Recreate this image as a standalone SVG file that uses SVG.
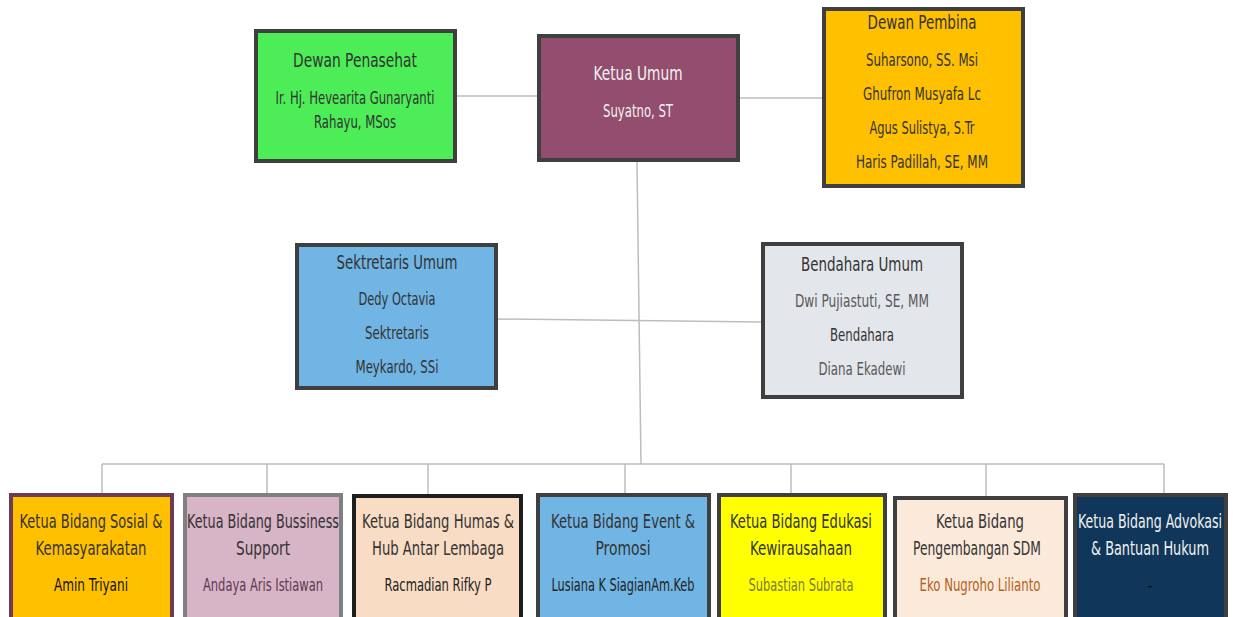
<svg xmlns="http://www.w3.org/2000/svg" width="1233" height="617" viewBox="0 0 1233 617">
<style>
text{font-family:"DejaVu Sans Condensed","Liberation Sans",sans-serif;text-anchor:middle;fill:#333}
.t{font-size:19px}
.n{font-size:17px}
.box{stroke:#3f3f3f;stroke-width:4}
.con{stroke:#bdbdbd;stroke-width:1.5;fill:none}
.w{fill:#f2f2f2}
</style>
<rect width="1233" height="617" fill="#fff"/>
<g id="connectors">
<line class="con" x1="457" y1="96" x2="537" y2="96"/>
<line class="con" x1="740" y1="98" x2="822" y2="98"/>
<line class="con" x1="637" y1="162" x2="641" y2="464"/>
<line class="con" x1="498" y1="319" x2="761" y2="322"/>
<line class="con" x1="102" y1="464" x2="1164" y2="464"/>
<line class="con" x1="102" y1="464" x2="102" y2="493"/>
<line class="con" x1="267" y1="464" x2="267" y2="493"/>
<line class="con" x1="428" y1="464" x2="428" y2="494"/>
<line class="con" x1="625" y1="464" x2="625" y2="493"/>
<line class="con" x1="791" y1="464" x2="791" y2="493"/>
<line class="con" x1="986" y1="464" x2="986" y2="496"/>
<line class="con" x1="1164" y1="464" x2="1164" y2="493"/>
</g>
<g id="dewan-penasehat">
<rect class="box" x="256" y="31" width="199" height="130" fill="#4ced56"/>
<text class="t" x="355" y="67" textLength="124" lengthAdjust="spacingAndGlyphs">Dewan  Penasehat</text>
<text class="n" x="355" y="104" textLength="159" lengthAdjust="spacingAndGlyphs">Ir. Hj. Hevearita Gunaryanti</text>
<text class="n" x="355" y="128" textLength="82" lengthAdjust="spacingAndGlyphs">Rahayu, MSos</text>
</g>
<g id="ketua-umum">
<rect class="box" x="539" y="36" width="199" height="124" fill="#934d6e"/>
<text class="t w" x="638" y="80" textLength="89" lengthAdjust="spacingAndGlyphs">Ketua Umum</text>
<text class="n w" x="638" y="117" textLength="70" lengthAdjust="spacingAndGlyphs">Suyatno, ST</text>
</g>
<g id="dewan-pembina">
<rect class="box" x="824" y="9" width="199" height="177" fill="#ffc000"/>
<text class="t" x="922" y="29" textLength="109" lengthAdjust="spacingAndGlyphs">Dewan Pembina</text>
<text class="n" x="922" y="66" textLength="112" lengthAdjust="spacingAndGlyphs">Suharsono, SS. Msi</text>
<text class="n" x="922" y="100" textLength="118" lengthAdjust="spacingAndGlyphs">Ghufron Musyafa Lc</text>
<text class="n" x="922" y="134" textLength="105" lengthAdjust="spacingAndGlyphs">Agus Sulistya, S.Tr</text>
<text class="n" x="922" y="168" textLength="132" lengthAdjust="spacingAndGlyphs">Haris Padillah, SE, MM</text>
</g>
<g id="sektretaris-umum">
<rect class="box" x="297" y="245" width="199" height="143" fill="#71b5e4"/>
<text class="t" x="397" y="269" textLength="121" lengthAdjust="spacingAndGlyphs">Sektretaris Umum</text>
<text class="n" x="397" y="305" textLength="77" lengthAdjust="spacingAndGlyphs">Dedy Octavia</text>
<text class="n" x="397" y="339" textLength="64" lengthAdjust="spacingAndGlyphs">Sektretaris</text>
<text class="n" x="397" y="373" textLength="83" lengthAdjust="spacingAndGlyphs">Meykardo, SSi</text>
</g>
<g id="bendahara-umum">
<rect class="box" x="763" y="244" width="199" height="153" fill="#e3e6ea"/>
<text class="t" x="862" y="271" textLength="122" lengthAdjust="spacingAndGlyphs">Bendahara Umum</text>
<text class="n" x="862" y="307" style="fill:#595959" textLength="134" lengthAdjust="spacingAndGlyphs">Dwi Pujiastuti, SE, MM</text>
<text class="n" x="862" y="341" textLength="64" lengthAdjust="spacingAndGlyphs">Bendahara</text>
<text class="n" x="862" y="375" style="fill:#595959" textLength="87" lengthAdjust="spacingAndGlyphs">Diana Ekadewi</text>
</g>
<g id="bidang-sosial">
<rect class="box" x="11" y="495" width="161" height="130" fill="#ffc000" style="stroke:#6e3b57"/>
<text class="t" x="91" y="528" textLength="143" lengthAdjust="spacingAndGlyphs">Ketua Bidang Sosial &amp;</text>
<text class="t" x="91" y="555" textLength="111" lengthAdjust="spacingAndGlyphs">Kemasyarakatan</text>
<text class="n" x="91" y="591" style="fill:#111" textLength="74" lengthAdjust="spacingAndGlyphs">Amin Triyani</text>
</g>
<g id="bidang-bussiness">
<rect class="box" x="185" y="495" width="156" height="130" fill="#d8b4c7" style="stroke:#808080"/>
<text class="t" x="263" y="528" textLength="152" lengthAdjust="spacingAndGlyphs">Ketua Bidang Bussiness</text>
<text class="t" x="263" y="555" textLength="54" lengthAdjust="spacingAndGlyphs">Support</text>
<text class="n" x="263" y="591" style="fill:#5b3b52" textLength="120" lengthAdjust="spacingAndGlyphs">Andaya Aris Istiawan</text>
</g>
<g id="bidang-humas">
<rect class="box" x="354" y="496" width="167" height="130" fill="#f8dcc3" style="stroke:#1e1e1e"/>
<text class="t" x="438" y="528" textLength="152" lengthAdjust="spacingAndGlyphs">Ketua Bidang Humas &amp;</text>
<text class="t" x="438" y="555" textLength="132" lengthAdjust="spacingAndGlyphs">Hub Antar Lembaga</text>
<text class="n" x="438" y="591" style="fill:#222" textLength="107" lengthAdjust="spacingAndGlyphs">Racmadian  Rifky P</text>
</g>
<g id="bidang-event">
<rect class="box" x="538" y="495" width="171" height="130" fill="#71b5e4"/>
<text class="t" x="623" y="528" textLength="144" lengthAdjust="spacingAndGlyphs">Ketua Bidang Event &amp;</text>
<text class="t" x="623" y="555" textLength="55" lengthAdjust="spacingAndGlyphs">Promosi</text>
<text class="n" x="623" y="591" style="fill:#222" textLength="143" lengthAdjust="spacingAndGlyphs">Lusiana K SiagianAm.Keb</text>
</g>
<g id="bidang-edukasi">
<rect class="box" x="719" y="495" width="166" height="130" fill="#ffff00"/>
<text class="t" x="801" y="528" textLength="142" lengthAdjust="spacingAndGlyphs">Ketua Bidang Edukasi</text>
<text class="t" x="801" y="555" textLength="102" lengthAdjust="spacingAndGlyphs">Kewirausahaan</text>
<text class="n" x="801" y="591" style="fill:#7a7a3a" textLength="105" lengthAdjust="spacingAndGlyphs">Subastian Subrata</text>
</g>
<g id="bidang-sdm">
<rect class="box" x="895" y="498" width="171" height="130" fill="#fbe9da"/>
<text class="t" x="980" y="528" textLength="88" lengthAdjust="spacingAndGlyphs">Ketua Bidang</text>
<text class="t" x="977" y="555" textLength="128" lengthAdjust="spacingAndGlyphs">Pengembangan SDM</text>
<text class="n" x="980" y="591" style="fill:#b35f1c" textLength="121" lengthAdjust="spacingAndGlyphs">Eko Nugroho Lilianto</text>
</g>
<g id="bidang-advokasi">
<rect class="box" x="1075" y="495" width="151" height="130" fill="#10375a"/>
<text class="t w" x="1150" y="528" textLength="144" lengthAdjust="spacingAndGlyphs">Ketua Bidang Advokasi</text>
<text class="t w" x="1150" y="555" textLength="118" lengthAdjust="spacingAndGlyphs">&amp; Bantuan Hukum</text>
<text class="n" x="1150" y="591" style="fill:#111">-</text>
</g>
</svg>
